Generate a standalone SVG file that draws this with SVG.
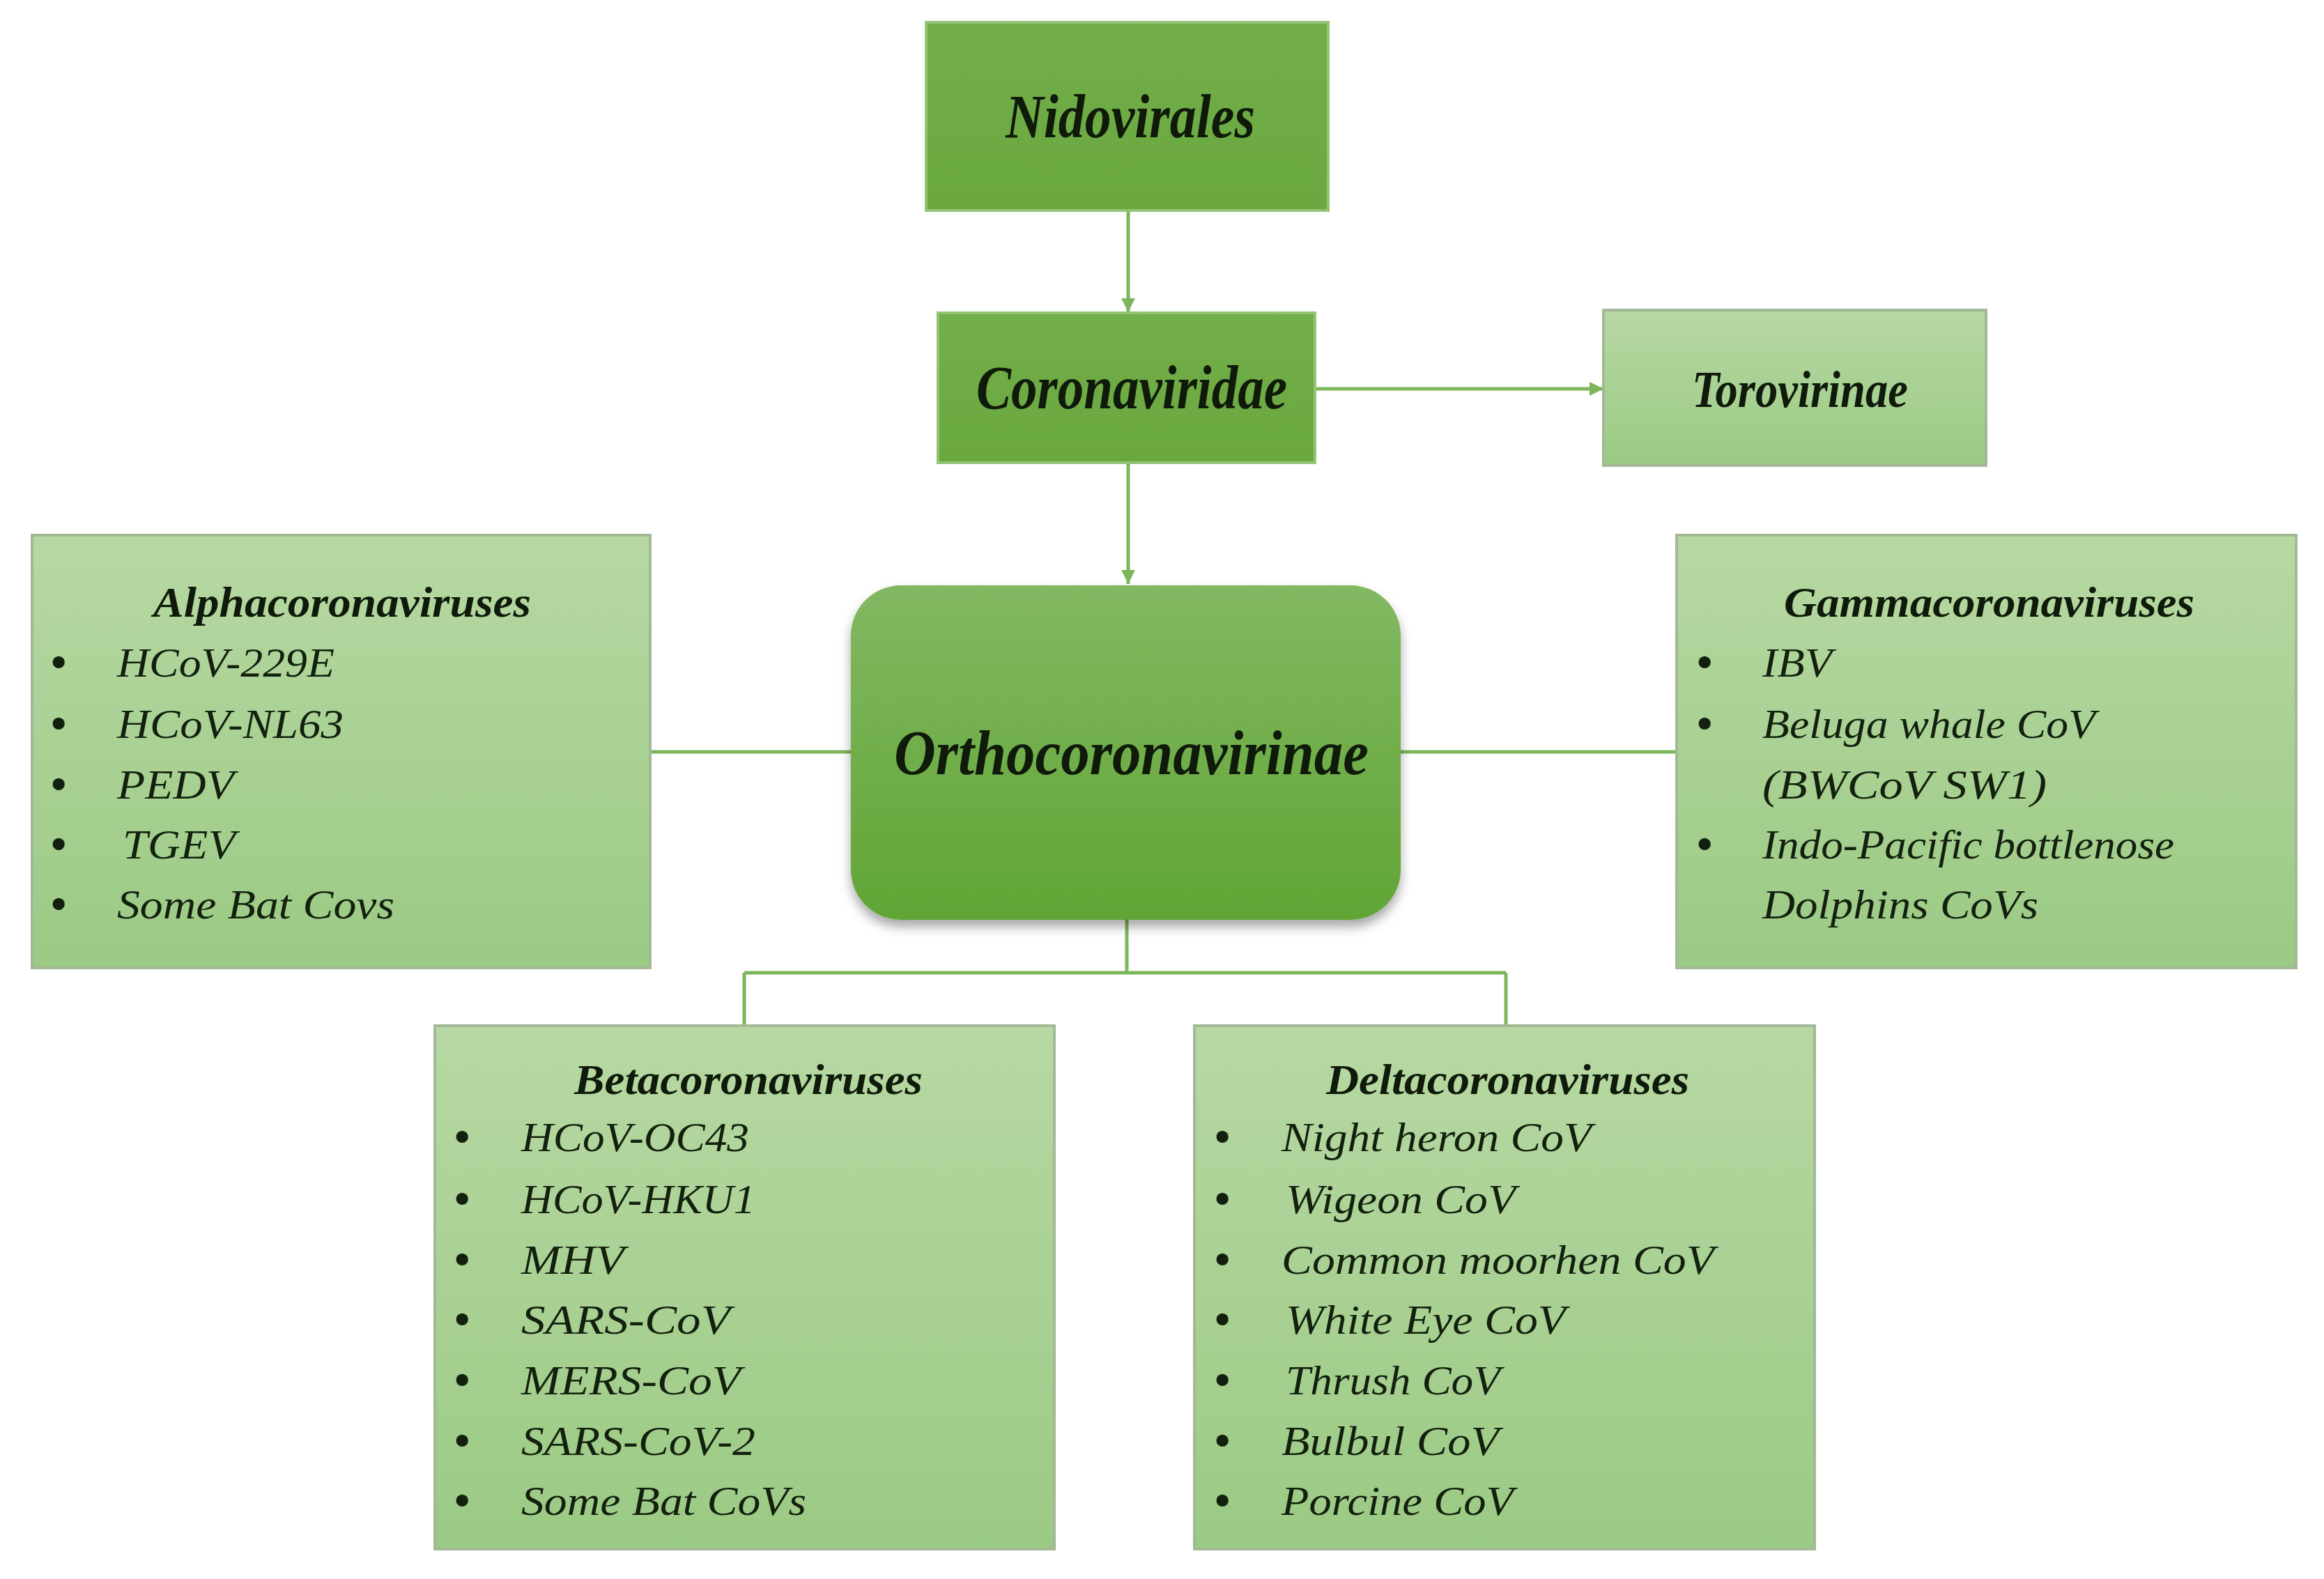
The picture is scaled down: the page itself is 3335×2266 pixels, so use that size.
<svg xmlns="http://www.w3.org/2000/svg" width="3335" height="2266" viewBox="0 0 3335 2266">
<defs>
  <linearGradient id="gLight" x1="0" y1="0" x2="0" y2="1">
    <stop offset="0" stop-color="#b7d8a3"/>
    <stop offset="1" stop-color="#9bca84"/>
  </linearGradient>
  <linearGradient id="gDark" x1="0" y1="0" x2="0" y2="1">
    <stop offset="0" stop-color="#72ae4a"/>
    <stop offset="1" stop-color="#6aa83f"/>
  </linearGradient>
  <linearGradient id="gOrtho" x1="0" y1="0" x2="0" y2="1">
    <stop offset="0" stop-color="#82b862"/>
    <stop offset="1" stop-color="#60a535"/>
  </linearGradient>
  <filter id="shadow" x="-10%" y="-10%" width="120%" height="130%">
    <feDropShadow dx="0" dy="10" stdDeviation="8" flood-color="#000" flood-opacity="0.35"/>
  </filter>
  <marker id="arrow" viewBox="0 0 10 10" refX="10" refY="5" markerWidth="4" markerHeight="4" orient="auto" markerUnits="strokeWidth">
    <path d="M0,0 L10,5 L0,10 z" fill="#7db65a"/>
  </marker>
</defs>
<style>
  .conn{stroke:#7db65a;stroke-width:5;fill:none}
  .title{font-family:'Liberation Serif','Times New Roman',serif;font-weight:bold;font-style:italic;fill:#0f1a0a}
  .item{font-family:'Liberation Serif','Times New Roman',serif;font-style:italic;font-size:60px;fill:#13200e}
  .bul{font-family:'Liberation Serif','Times New Roman',serif;font-size:64px;font-weight:bold;fill:#13200e}
  .light{fill:url(#gLight);stroke:#a3b896;stroke-width:4}
  .dark{fill:url(#gDark);stroke:#93c474;stroke-width:4}
</style>
<rect width="3335" height="2266" fill="#ffffff"/>

<g id="connectors">
  <path class="conn" d="M1619,302 V448" marker-end="url(#arrow)"/>
  <path class="conn" d="M1887,558 H2301" marker-end="url(#arrow)"/>
  <path class="conn" d="M1619,664 V838" marker-end="url(#arrow)"/>
  <path class="conn" d="M932,1079 H1221"/>
  <path class="conn" d="M2010,1079 H2406"/>
  <path class="conn" d="M1617,1320 V1396"/>
  <path class="conn" d="M1068,1396 H2161"/>
  <path class="conn" d="M1068,1396 V1472"/>
  <path class="conn" d="M2161,1396 V1472"/>
</g>

<g id="nidovirales">
  <rect class="dark" x="1329" y="32" width="577" height="270"/>
  <text class="title" x="1443" y="197" font-size="88" textLength="358" lengthAdjust="spacingAndGlyphs">Nidovirales</text>
</g>

<g id="coronaviridae">
  <rect class="dark" x="1346" y="449" width="541" height="215"/>
  <text class="title" x="1401" y="586" font-size="88" textLength="446" lengthAdjust="spacingAndGlyphs">Coronaviridae</text>
</g>

<g id="torovirinae">
  <rect class="light" x="2301" y="445" width="549" height="223"/>
  <text class="title" x="2428" y="584" font-size="74" textLength="310" lengthAdjust="spacingAndGlyphs">Torovirinae</text>
</g>

<g id="orthocoronavirinae">
  <rect x="1221" y="840" width="789" height="480" rx="72" ry="72" fill="url(#gOrtho)" filter="url(#shadow)"/>
  <text class="title" x="1283" y="1111" font-size="92" textLength="681" lengthAdjust="spacingAndGlyphs">Orthocoronavirinae</text>
</g>

<g id="alphacoronaviruses">
  <rect class="light" x="46" y="768" width="887" height="621"/>
  <text class="title" x="220" y="885" font-size="62" textLength="542" lengthAdjust="spacingAndGlyphs">Alphacoronaviruses</text>
  <text class="bul" x="73" y="971">•</text>
  <text class="bul" x="73" y="1059">•</text>
  <text class="bul" x="73" y="1146">•</text>
  <text class="bul" x="73" y="1232">•</text>
  <text class="bul" x="73" y="1318">•</text>
  <text class="item" x="168" y="971" textLength="312" lengthAdjust="spacingAndGlyphs">HCoV-229E</text>
  <text class="item" x="168" y="1059" textLength="325" lengthAdjust="spacingAndGlyphs">HCoV-NL63</text>
  <text class="item" x="168" y="1146" textLength="168" lengthAdjust="spacingAndGlyphs">PEDV</text>
  <text class="item" x="176" y="1232" textLength="162" lengthAdjust="spacingAndGlyphs">TGEV</text>
  <text class="item" x="168" y="1318" textLength="398" lengthAdjust="spacingAndGlyphs">Some Bat Covs</text>
</g>

<g id="gammacoronaviruses">
  <rect class="light" x="2406" y="768" width="889" height="621"/>
  <text class="title" x="2560" y="885" font-size="62" textLength="589" lengthAdjust="spacingAndGlyphs">Gammacoronaviruses</text>
  <text class="bul" x="2435" y="971">•</text>
  <text class="bul" x="2435" y="1059">•</text>
  <text class="bul" x="2435" y="1232">•</text>
  <text class="item" x="2529" y="971" textLength="100" lengthAdjust="spacingAndGlyphs">IBV</text>
  <text class="item" x="2529" y="1059" textLength="478" lengthAdjust="spacingAndGlyphs">Beluga whale CoV</text>
  <text class="item" x="2529" y="1146" textLength="408" lengthAdjust="spacingAndGlyphs">(BWCoV SW1)</text>
  <text class="item" x="2529" y="1232" textLength="591" lengthAdjust="spacingAndGlyphs">Indo-Pacific bottlenose</text>
  <text class="item" x="2529" y="1318" textLength="396" lengthAdjust="spacingAndGlyphs">Dolphins CoVs</text>
</g>

<g id="betacoronaviruses">
  <rect class="light" x="624" y="1472" width="889" height="751"/>
  <text class="title" x="824" y="1570" font-size="62" textLength="500" lengthAdjust="spacingAndGlyphs">Betacoronaviruses</text>
  <text class="bul" x="652" y="1652">•</text>
  <text class="bul" x="652" y="1741">•</text>
  <text class="bul" x="652" y="1828">•</text>
  <text class="bul" x="652" y="1914">•</text>
  <text class="bul" x="652" y="2001">•</text>
  <text class="bul" x="652" y="2088">•</text>
  <text class="bul" x="652" y="2174">•</text>
  <text class="item" x="748" y="1652" textLength="327" lengthAdjust="spacingAndGlyphs">HCoV-OC43</text>
  <text class="item" x="748" y="1741" textLength="336" lengthAdjust="spacingAndGlyphs">HCoV-HKU1</text>
  <text class="item" x="748" y="1828" textLength="148" lengthAdjust="spacingAndGlyphs">MHV</text>
  <text class="item" x="748" y="1914" textLength="300" lengthAdjust="spacingAndGlyphs">SARS-CoV</text>
  <text class="item" x="748" y="2001" textLength="315" lengthAdjust="spacingAndGlyphs">MERS-CoV</text>
  <text class="item" x="748" y="2088" textLength="336" lengthAdjust="spacingAndGlyphs">SARS-CoV-2</text>
  <text class="item" x="748" y="2174" textLength="409" lengthAdjust="spacingAndGlyphs">Some Bat CoVs</text>
</g>

<g id="deltacoronaviruses">
  <rect class="light" x="1714" y="1472" width="890" height="751"/>
  <text class="title" x="1903" y="1570" font-size="62" textLength="521" lengthAdjust="spacingAndGlyphs">Deltacoronaviruses</text>
  <text class="bul" x="1743" y="1652">•</text>
  <text class="bul" x="1743" y="1741">•</text>
  <text class="bul" x="1743" y="1828">•</text>
  <text class="bul" x="1743" y="1914">•</text>
  <text class="bul" x="1743" y="2001">•</text>
  <text class="bul" x="1743" y="2088">•</text>
  <text class="bul" x="1743" y="2174">•</text>
  <text class="item" x="1839" y="1652" textLength="445" lengthAdjust="spacingAndGlyphs">Night heron CoV</text>
  <text class="item" x="1845" y="1741" textLength="330" lengthAdjust="spacingAndGlyphs">Wigeon CoV</text>
  <text class="item" x="1839" y="1828" textLength="621" lengthAdjust="spacingAndGlyphs">Common moorhen CoV</text>
  <text class="item" x="1845" y="1914" textLength="402" lengthAdjust="spacingAndGlyphs">White Eye CoV</text>
  <text class="item" x="1845" y="2001" textLength="308" lengthAdjust="spacingAndGlyphs">Thrush CoV</text>
  <text class="item" x="1839" y="2088" textLength="312" lengthAdjust="spacingAndGlyphs">Bulbul CoV</text>
  <text class="item" x="1839" y="2174" textLength="333" lengthAdjust="spacingAndGlyphs">Porcine CoV</text>
</g>
</svg>
